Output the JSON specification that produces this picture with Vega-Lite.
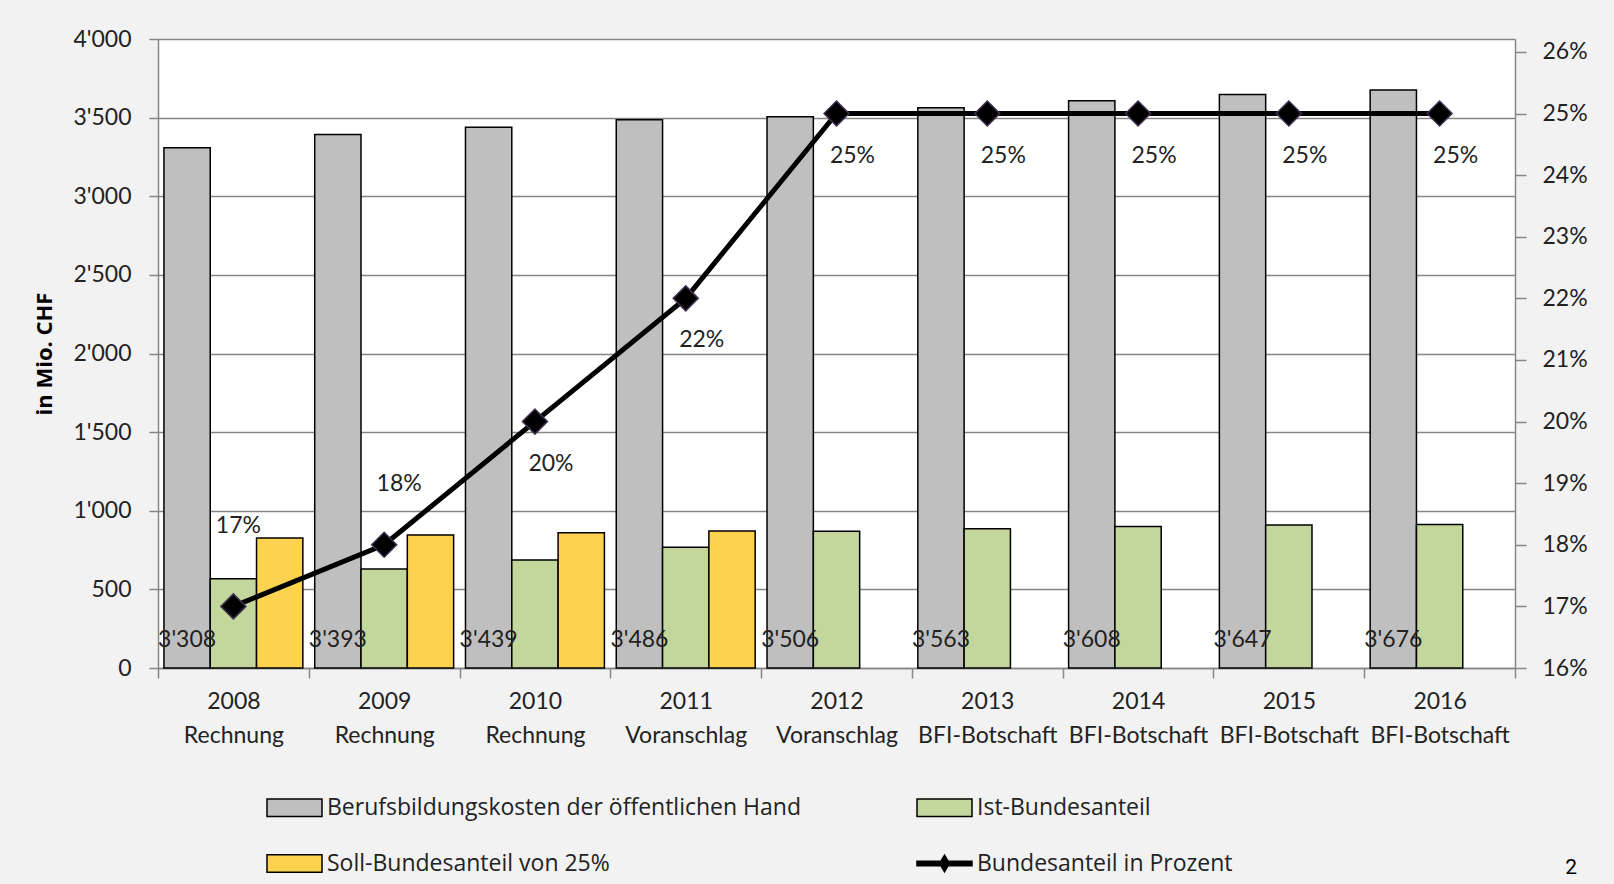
{
  "$schema": "https://vega.github.io/schema/vega-lite/v6.json",
  "width": 1357,
  "height": 629,
  "autosize": {"type": "none"},
  "padding": {"left": 158, "top": 39, "right": 99, "bottom": 216},
  "background": "#f2f2f2",
  "title": {"text": "2", "orient": "bottom", "anchor": "end", "frame": "group", "font": "Roboto", "fontSize": 21, "fontWeight": "normal", "color": "#000000", "dx": 62, "offset": -19},
  "datasets": {
    "bars": [
      {"x": "2008|Rechnung", "series": "Berufsbildungskosten der öffentlichen Hand", "value": 3308},
      {"x": "2009|Rechnung", "series": "Berufsbildungskosten der öffentlichen Hand", "value": 3393},
      {"x": "2010|Rechnung", "series": "Berufsbildungskosten der öffentlichen Hand", "value": 3439},
      {"x": "2011|Voranschlag", "series": "Berufsbildungskosten der öffentlichen Hand", "value": 3486},
      {"x": "2012|Voranschlag", "series": "Berufsbildungskosten der öffentlichen Hand", "value": 3506},
      {"x": "2013|BFI-Botschaft", "series": "Berufsbildungskosten der öffentlichen Hand", "value": 3563},
      {"x": "2014|BFI-Botschaft", "series": "Berufsbildungskosten der öffentlichen Hand", "value": 3608},
      {"x": "2015|BFI-Botschaft", "series": "Berufsbildungskosten der öffentlichen Hand", "value": 3647},
      {"x": "2016|BFI-Botschaft", "series": "Berufsbildungskosten der öffentlichen Hand", "value": 3676},
      {"x": "2008|Rechnung", "series": "Ist-Bundesanteil", "value": 568},
      {"x": "2009|Rechnung", "series": "Ist-Bundesanteil", "value": 630},
      {"x": "2010|Rechnung", "series": "Ist-Bundesanteil", "value": 687},
      {"x": "2011|Voranschlag", "series": "Ist-Bundesanteil", "value": 768},
      {"x": "2012|Voranschlag", "series": "Ist-Bundesanteil", "value": 870},
      {"x": "2013|BFI-Botschaft", "series": "Ist-Bundesanteil", "value": 885},
      {"x": "2014|BFI-Botschaft", "series": "Ist-Bundesanteil", "value": 900},
      {"x": "2015|BFI-Botschaft", "series": "Ist-Bundesanteil", "value": 910},
      {"x": "2016|BFI-Botschaft", "series": "Ist-Bundesanteil", "value": 912},
      {"x": "2008|Rechnung", "series": "Soll-Bundesanteil von 25%", "value": 827},
      {"x": "2009|Rechnung", "series": "Soll-Bundesanteil von 25%", "value": 845},
      {"x": "2010|Rechnung", "series": "Soll-Bundesanteil von 25%", "value": 860},
      {"x": "2011|Voranschlag", "series": "Soll-Bundesanteil von 25%", "value": 872}
    ],
    "pct": [
      {"x": "2008|Rechnung", "year": 2008, "pct": 0.17},
      {"x": "2009|Rechnung", "year": 2009, "pct": 0.18},
      {"x": "2010|Rechnung", "year": 2010, "pct": 0.20},
      {"x": "2011|Voranschlag", "year": 2011, "pct": 0.22},
      {"x": "2012|Voranschlag", "year": 2012, "pct": 0.25},
      {"x": "2013|BFI-Botschaft", "year": 2013, "pct": 0.25},
      {"x": "2014|BFI-Botschaft", "year": 2014, "pct": 0.25},
      {"x": "2015|BFI-Botschaft", "year": 2015, "pct": 0.25},
      {"x": "2016|BFI-Botschaft", "year": 2016, "pct": 0.25}
    ]
  },
  "encoding": {
    "x": {
      "field": "x", "type": "nominal", "sort": null,
      "scale": {"domain": ["2008|Rechnung", "2009|Rechnung", "2010|Rechnung", "2011|Voranschlag", "2012|Voranschlag", "2013|BFI-Botschaft", "2014|BFI-Botschaft", "2015|BFI-Botschaft", "2016|BFI-Botschaft"], "paddingInner": 0, "paddingOuter": 0},
      "axis": {"title": null, "tickBand": "extent", "tickSize": 10, "labelExpr": "split(datum.label, '|')", "labelLineHeight": 34, "labelPadding": 12, "labelAngle": 0}
    }
  },
  "layer": [
    {
      "data": {"name": "bars"},
      "encoding": {
        "y": {"field": "value", "type": "quantitative", "scale": {"domain": [0, 4000], "nice": false},
          "axis": {"title": "in Mio. CHF", "values": [0, 500, 1000, 1500, 2000, 2500, 3000, 3500, 4000], "format": ",.0f", "grid": true, "tickSize": 9, "labelPadding": 18, "titlePadding": 16, "titleFontWeight": "bold", "titleFontSize": 22}}
      },
      "layer": [
        {
          "mark": {"type": "bar", "stroke": "#000000", "strokeWidth": 1.5},
          "encoding": {
            "xOffset": {"field": "series", "type": "nominal", "scale": {"domain": ["Berufsbildungskosten der öffentlichen Hand", "Ist-Bundesanteil", "Soll-Bundesanteil von 25%"], "paddingInner": 0, "paddingOuter": 0.128}},
            "fill": {"field": "series", "type": "nominal",
              "scale": {"domain": ["Berufsbildungskosten der öffentlichen Hand", "Soll-Bundesanteil von 25%", "Ist-Bundesanteil", "Bundesanteil in Prozent"], "range": ["#bfbfbf", "#fdd24f", "#c3d69b", "#000000"]},
              "legend": {
                "title": null, "orient": "none", "legendX": 108, "legendY": 740, "columns": 2, "columnPadding": 112, "rowPadding": 15,
                "symbolSize": 3025, "symbolType": "M-1,-0.32H1V0.32H-1Z", "symbolStrokeColor": "#000000", "symbolStrokeWidth": 1.5, "symbolOpacity": 1,
                "labelFont": "Open Sans", "labelFontSize": 23, "labelOffset": 4, "labelLimit": 800, "padding": 0,
                "encode": {"symbols": {"update": {"shape": {"signal": "datum.value === 'Bundesanteil in Prozent' ? 'M-1,-0.08H1V0.08H-1Z M0,-0.3L0.18,0L0,0.3L-0.18,0Z' : 'M-1,-0.32H1V0.32H-1Z'"}}}}
              }
            }
          }
        },
        {
          "transform": [{"filter": "datum.series === 'Berufsbildungskosten der öffentlichen Hand'"}],
          "mark": {"type": "text", "dy": -28, "fontSize": 23, "baseline": "middle", "align": "center", "color": "#222222"},
          "encoding": {
            "xOffset": {"field": "series", "type": "nominal"},
            "y": {"datum": 0, "type": "quantitative"},
            "text": {"field": "value", "type": "quantitative", "format": ",.0f"}
          }
        }
      ]
    },
    {
      "data": {"name": "pct"},
      "encoding": {
        "y": {"field": "pct", "type": "quantitative", "scale": {"domain": [0.16, 0.2621], "nice": false, "zero": false},
          "axis": {"orient": "right", "title": null, "values": [0.16, 0.17, 0.18, 0.19, 0.2, 0.21, 0.22, 0.23, 0.24, 0.25, 0.26], "format": ".0%", "grid": false, "tickSize": 11, "labelPadding": 16}}
      },
      "layer": [
        {"mark": {"type": "line", "color": "#000000", "strokeWidth": 5}},
        {"mark": {"type": "point", "shape": "diamond", "size": 625, "filled": true, "fill": "#000000", "stroke": "#3f3151", "strokeWidth": 1.5, "opacity": 1}},
        {
          "transform": [{"filter": "datum.year === 2008"}],
          "mark": {"type": "text", "dx": 5, "dy": -80, "fontSize": 23, "baseline": "middle", "color": "#222222"},
          "encoding": {"text": {"field": "pct", "type": "quantitative", "format": ".0%"}}
        },
        {
          "transform": [{"filter": "datum.year === 2009"}],
          "mark": {"type": "text", "dx": 15, "dy": -61, "fontSize": 23, "baseline": "middle", "color": "#222222"},
          "encoding": {"text": {"field": "pct", "type": "quantitative", "format": ".0%"}}
        },
        {
          "transform": [{"filter": "datum.year >= 2010"}],
          "mark": {"type": "text", "dx": 16, "dy": 42, "fontSize": 23, "baseline": "middle", "color": "#222222"},
          "encoding": {"text": {"field": "pct", "type": "quantitative", "format": ".0%"}}
        }
      ]
    }
  ],
  "resolve": {"scale": {"y": "independent"}},
  "config": {
    "font": "Lato",
    "locale": {"number": {"decimal": ".", "thousands": "'", "grouping": [3], "currency": ["", ""]}},
    "view": {"fill": "#ffffff", "stroke": null},
    "axis": {"labelFont": "Lato", "labelFontSize": 23, "labelColor": "#222222", "titleFont": "Open Sans", "titleColor": "#000000", "domainColor": "#868686", "domainWidth": 1.5, "tickColor": "#868686", "tickWidth": 1.5, "gridColor": "#868686", "gridWidth": 1.5},
    "legend": {"labelColor": "#222222"}
  }
}
